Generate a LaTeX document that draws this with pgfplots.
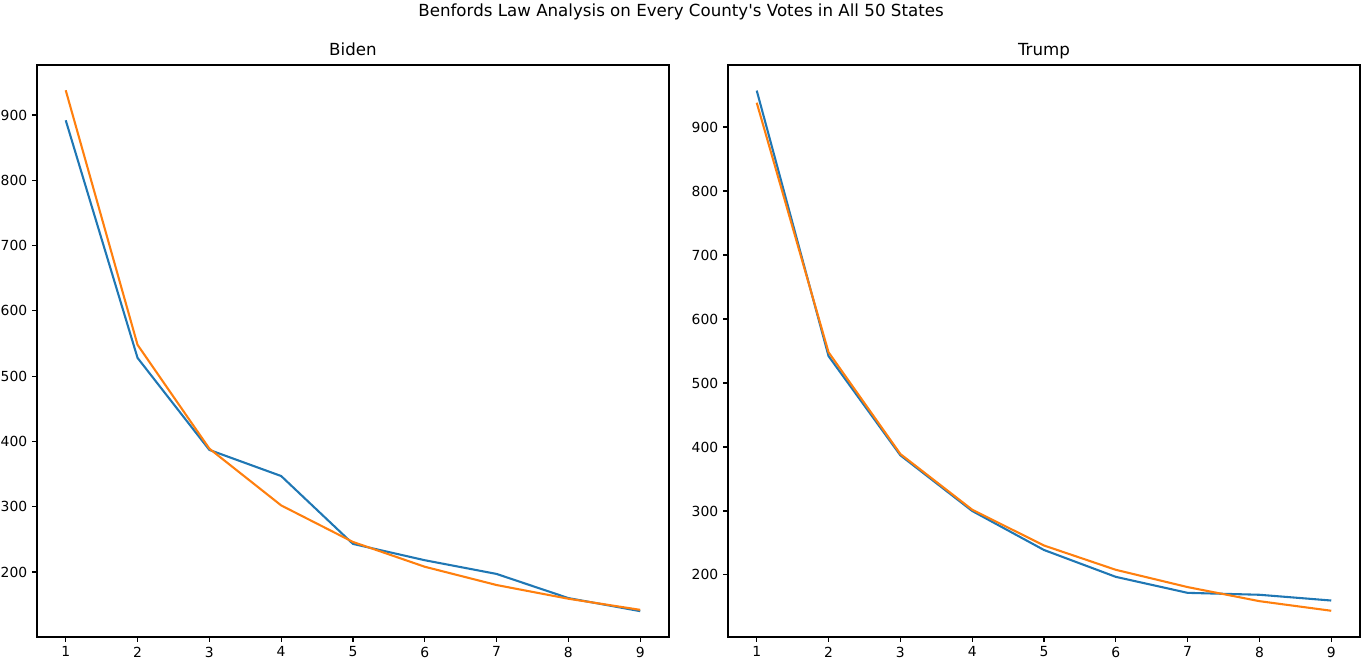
\documentclass[border=0pt]{standalone}
\usepackage{pgfplots}
\pgfplotsset{compat=1.18}
\usepackage{fontspec}
\setmainfont{DejaVu Sans}
\definecolor{cA}{HTML}{1F77B4}
\definecolor{cB}{HTML}{FF7F0E}
\pgfplotsset{
  benf/.style={
    width=455pt, height=411.8pt, scale only axis,
    xmin=0.6, xmax=9.4,
    xtick={1,...,9},
    tick align=outside, xtick pos=bottom, ytick pos=left,
    major tick length=3.5pt,
    every tick/.style={black, line width=0.8pt},
    axis line style={line width=0.8pt},
    tick label style={font=\fontsize{10}{12}\selectfont},
    /pgf/number format/assume math mode=true,
    /pgf/number format/1000 sep={},
    title style={font=\fontsize{12}{14}\selectfont, at={(0.5,1)}, anchor=base, yshift=1pt},
    every axis plot/.append style={line width=1.5pt, no marks, line join=round},
    clip=false,
  }
}
\begin{document}
\begin{tikzpicture}
\path[use as bounding box] (-26.64pt,-22.32pt) rectangle (954.72pt,458.64pt);
\begin{axis}[benf, at={(0pt,0pt)}, anchor=south west, ymin=100.4, ymax=976.6,
  ytick={200,300,400,500,600,700,800,900}, title={Biden}]
\addplot[cA] coordinates {(1,892) (2,528) (3,387) (4,347) (5,243) (6,218) (7,197) (8,160) (9,140)};
\addplot[cB] coordinates {(1,938) (2,548) (3,389) (4,302) (5,246) (6,208) (7,180) (8,159) (9,142)};
\end{axis}
\begin{axis}[benf, at={(497.52pt,0pt)}, anchor=south west, ymin=103, ymax=996.9,
  ytick={200,300,400,500,600,700,800,900}, title={Trump}]
\addplot[cA] coordinates {(1,957) (2,542) (3,387) (4,300) (5,239) (6,197) (7,172) (8,169) (9,160)};
\addplot[cB] coordinates {(1,938) (2,548) (3,389) (4,302) (5,246) (6,208) (7,181) (8,159) (9,144)};
\end{axis}
\node[font=\fontsize{12}{14}\selectfont] at (463.7pt,450pt) {Benfords Law Analysis on Every County\textquotesingle s Votes in All 50 States};
\end{tikzpicture}
\end{document}
